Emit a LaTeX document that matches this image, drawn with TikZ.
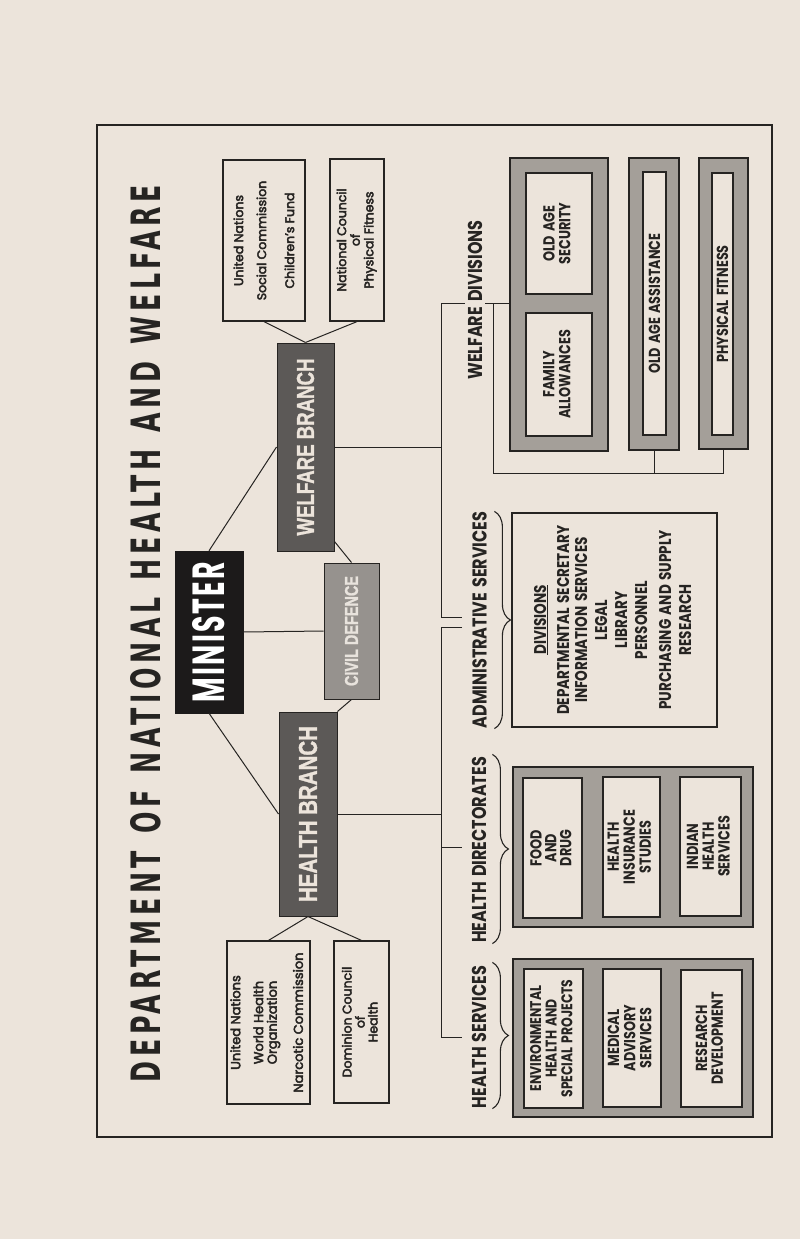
\documentclass[tikz,border=0pt]{standalone}
\usepackage{fontspec}
\usepackage{graphicx}
\usetikzlibrary{decorations.pathreplacing,calc}
\setmainfont{Poppins}
\newfontfamily\mixf{Poppins}[FakeBold=3.5]
\newfontfamily\capf{Poppins}[FakeStretch=0.8,WordSpace=1.5]
\newfontfamily\minf{Poppins}[LetterSpace=8]
\newfontfamily\gothf{Liberation Sans}[FakeBold=1.5]
\newfontfamily\titf{DejaVu Sans}[LetterSpace=18,WordSpace=1.3]
\definecolor{paper}{RGB}{236,228,219}
\definecolor{ink}{RGB}{38,36,34}
\definecolor{hatch}{RGB}{164,159,153}
\definecolor{branchgray}{RGB}{92,89,87}
\definecolor{civilgray}{RGB}{150,146,142}
\definecolor{civiltext}{RGB}{232,227,221}
\definecolor{ministblack}{RGB}{28,26,26}
\newcommand\vtxt[4]{\rotatebox{90}{#1\fontsize{#2}{#3}\selectfont\begin{tabular}{@{}c@{}}#4\end{tabular}}}
\newcommand\vone[3]{\rotatebox{90}{#1\fontsize{#2}{#2}\selectfont #3}}
\begin{document}
\begin{tikzpicture}[x=1pt,y=-1pt,
  frame/.style={draw=ink,line width=2.8pt},
  conn/.style={draw=ink,line width=1pt},
  brace/.style={draw=ink,line width=1.1pt,decorate,decoration={brace,amplitude=16pt}},
  plainbox/.style={draw=ink,line width=1.2pt,fill=paper,inner sep=0pt,text=ink},
  hatchbox/.style={draw=ink,line width=1.2pt,fill=hatch,inner sep=0pt},
  branchbox/.style={draw=ink,line width=1pt,fill=branchgray,inner sep=0pt,text=paper},
  civilbox/.style={draw=ink,line width=1pt,fill=civilgray,inner sep=0pt,text=civiltext},
  ministerbox/.style={draw=ministblack,fill=ministblack,inner sep=0pt,text=white},
  hdr/.style={fill=paper,inner sep=3pt,text=ink},
  titletext/.style={inner sep=0pt,text=ink}]
\useasboundingbox (0,0) rectangle (800,1239);
\fill[paper] (0,0) rectangle (800,1239);
\draw[frame] (97,125) rectangle (772,1137);

% title
\node[titletext] (title) at (146,633.5) {\rotatebox{90}{\resizebox{897pt}{30pt}{\titf\bfseries DEPARTMENT OF NATIONAL HEALTH AND WELFARE}}};

% left column
\node[ministerbox,minimum width=68pt,minimum height=162pt] (minister) at (209,632) {\rotatebox{90}{\resizebox{140pt}{32pt}{\minf\bfseries MINISTER}}};
\node[branchbox,minimum width=57pt,minimum height=208pt] (welfare) at (305.5,447) {\rotatebox{90}{\resizebox{177pt}{17pt}{\gothf\bfseries WELFARE BRANCH}}};
\node[branchbox,minimum width=58pt,minimum height=204pt] (health) at (308,814) {\rotatebox{90}{\resizebox{176pt}{18pt}{\gothf\bfseries HEALTH BRANCH}}};
\node[civilbox,minimum width=55pt,minimum height=136pt] (civil) at (351.5,631) {\rotatebox{90}{\resizebox{110pt}{13pt}{\gothf\bfseries CIVIL DEFENCE}}};

\node[plainbox,minimum width=82pt,minimum height=161pt] (unsc) at (264,240.5) {\vtxt{\mixf}{12.5}{23}{United Nations\\Social Commission\\[5pt]Children’s Fund}};
\node[plainbox,minimum width=54pt,minimum height=162pt] (ncpf) at (357,240) {\vtxt{\mixf}{12.5}{13.5}{National Council\\of\\Physical Fitness}};
\node[plainbox,minimum width=83pt,minimum height=163pt] (unwho) at (268.5,1022.5) {\vtxt{\mixf}{13}{12.5}{United Nations\\[9.5pt]World Health\\Organization\\[12.5pt]Narcotic Commission}};
\node[plainbox,minimum width=55pt,minimum height=162pt] (dch) at (361.5,1022) {\vtxt{\mixf}{12.5}{12}{Dominion Council\\of\\Health}};

% welfare divisions
\node[hatchbox,minimum width=98pt,minimum height=293pt] (wgrp) at (559,304.5) {};
\node[plainbox,minimum width=66pt,minimum height=121pt] (oas) at (559,233.5) {\vtxt{\capf\bfseries}{16}{15}{OLD AGE\\SECURITY}};
\node[plainbox,minimum width=66pt,minimum height=123pt] (fa) at (559,374.5) {\vtxt{\capf\bfseries}{16}{15}{FAMILY\\ALLOWANCES}};
\node[hatchbox,minimum width=50pt,minimum height=292pt] (oaag) at (654,304) {};
\node[plainbox,minimum width=23pt,minimum height=263pt] (oaa) at (654.5,303.5) {\vone{\capf\bfseries}{16}{OLD AGE ASSISTANCE}};
\node[hatchbox,minimum width=49pt,minimum height=291pt] (pfg) at (723.5,303.5) {};
\node[plainbox,minimum width=21pt,minimum height=262pt] (pf) at (722.5,304) {\vone{\capf\bfseries}{16}{PHYSICAL FITNESS}};

% administrative services
\node[plainbox,minimum width=205pt,minimum height=214pt] (admin) at (614.5,620) {\vtxt{\capf\bfseries}{17}{20}{\underline{DIVISIONS}\\[3pt]DEPARTMENTAL SECRETARY\\[-2pt]INFORMATION SERVICES\\LEGAL\\LIBRARY\\PERSONNEL\\[4pt]PURCHASING AND SUPPLY\\RESEARCH}};

% health directorates
\node[hatchbox,minimum width=240pt,minimum height=160pt] (hdg) at (633,847) {};
\node[plainbox,minimum width=59pt,minimum height=140pt] (fd) at (552.5,848) {\vtxt{\capf\bfseries}{16}{12}{FOOD\\AND\\DRUG}};
\node[plainbox,minimum width=57pt,minimum height=140pt] (his) at (631.5,847) {\vtxt{\capf\bfseries}{16}{15.5}{HEALTH\\INSURANCE\\STUDIES}};
\node[plainbox,minimum width=61pt,minimum height=139pt] (ihs) at (710.5,846.5) {\vtxt{\capf\bfseries}{16}{15}{INDIAN\\HEALTH\\SERVICES}};

% health services
\node[hatchbox,minimum width=240pt,minimum height=158pt] (hsg) at (633,1038) {};
\node[plainbox,minimum width=59pt,minimum height=139pt] (env) at (553.5,1038.5) {\vtxt{\capf\bfseries}{15.5}{15.5}{ENVIRONMENTAL\\HEALTH AND\\SPECIAL PROJECTS}};
\node[plainbox,minimum width=58pt,minimum height=138pt] (med) at (632,1038) {\vtxt{\capf\bfseries}{16}{16}{MEDICAL\\ADVISORY\\SERVICES}};
\node[plainbox,minimum width=61pt,minimum height=137pt] (res) at (711.5,1038.5) {\vtxt{\capf\bfseries}{16}{15}{RESEARCH\\DEVELOPMENT}};

% connector coordinates
\coordinate (wt1) at (441,303);
\coordinate (wt2) at (441,617);
\coordinate (wt3) at (462,617);
\coordinate (wb) at (493,303);
\coordinate (wbot) at (493,473);
\coordinate (h1) at (462,627);
\coordinate (h2) at (441,627);
\coordinate (h3) at (441,1037);
\coordinate (h4) at (462,1037);
\coordinate (h5) at (462,847);

% connectors (drawn before labels so labels mask them)
\draw[conn] (wt1 -| 476,0) -- (wt1) -- (wt2) -- (wt3);
\draw[conn] (wt1 -| 476,0) -- (wt1 -| wgrp.west);
\draw[conn] (wb) -- (wbot) -- (wbot -| pfg.south) -- (pfg.south);
\draw[conn] (wbot -| oaag.south) -- (oaag.south);
\draw[conn] (welfare.east) -- (welfare.east -| wt1);
\draw[conn] (h1) -- (h2) -- (h3) -- (h4);
\draw[conn] (h3 |- h5) -- (h5);
\draw[conn] (health.east) -- (health.east -| h2);

\draw[conn] (minister.north) -- (welfare.west);
\draw[conn] (minister.south) -- (health.west);
\draw[conn] (minister.east) -- (civil.west);
\draw[conn] ($(welfare.south east)+(0,-10)$) -- (civil.north);
\draw[conn] (civil.south) -- (health.north east);
\draw[conn] (unsc.south) -- (welfare.north);
\draw[conn] (ncpf.south) -- (welfare.north);
\draw[conn] (health.south) -- (unwho.north);
\draw[conn] (health.south) -- (dch.north);

% group labels
\node[hdr] (wdl) at (475,300) {\vone{\capf\bfseries}{20}{WELFARE DIVISIONS}};
\node[hdr] (adl) at (479.5,620) {\vone{\capf\bfseries}{20}{ADMINISTRATIVE SERVICES}};
\node[hdr] (hdl) at (479,850) {\vone{\capf\bfseries}{20}{HEALTH DIRECTORATES}};
\node[hdr] (hsl) at (479,1037) {\vone{\capf\bfseries}{20}{HEALTH SERVICES}};

% braces
\draw[brace] ($(admin.north west)+(-17,-1)$) -- ($(admin.south west)+(-17,1)$);
\draw[brace] ($(hdg.north west)+(-20,-12)$) -- ($(hdg.south west)+(-20,16)$);
\draw[brace] ($(hsg.north west)+(-20,4)$) -- ($(hsg.south west)+(-20,-9)$);
\end{tikzpicture}
\end{document}
